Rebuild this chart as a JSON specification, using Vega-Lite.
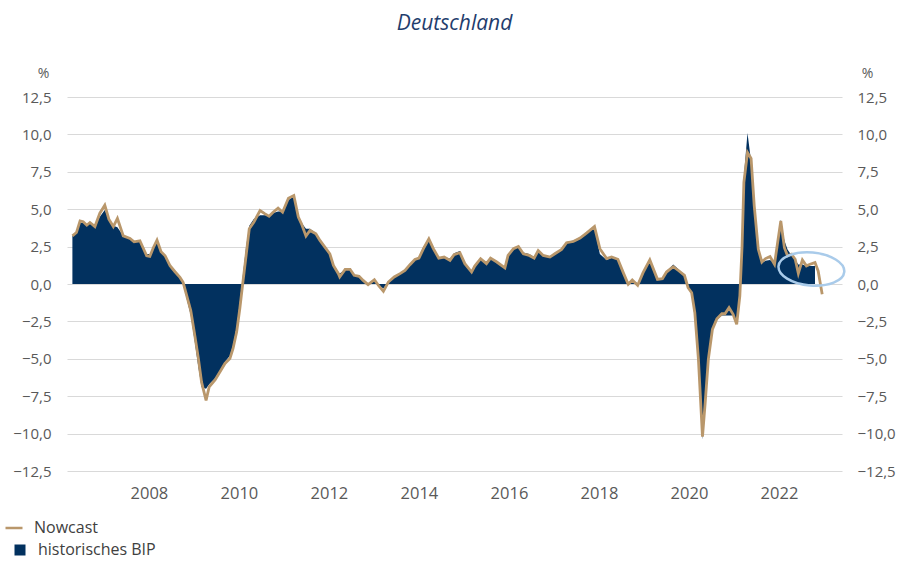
{
  "$schema": "https://vega.github.io/schema/vega-lite/v6.json",
  "autosize": {"type": "none"},
  "width": 775,
  "height": 374,
  "padding": {"left": 67, "top": 97, "right": 55, "bottom": 91},
  "config": {
    "font": "Open Sans",
    "view": {"stroke": null},
    "axis": {"labelFont": "Open Sans", "labelFontSize": 15, "labelColor": "#595959", "titleFont": "Open Sans", "titleFontSize": 14, "titleFontWeight": "normal", "titleColor": "#595959"},
    "legend": {"labelFont": "Open Sans", "labelFontSize": 16, "labelColor": "#404040", "padding": 0}
  },
  "title": {"text": "Deutschland", "fontStyle": "italic", "fontWeight": "normal", "fontSize": 21, "color": "#1f3d6d", "anchor": "middle", "offset": 32, "font": "Open Sans"},
  "datasets": {
    "series": [
      {"t":2006.30,"n":3.22,"b":3.22},{"t":2006.39,"n":3.44,"b":3.44},{"t":2006.47,"n":4.22,"b":4.1},{"t":2006.54,"n":4.16,"b":4.1},
      {"t":2006.62,"n":3.93,"b":3.95},{"t":2006.69,"n":4.11,"b":4.05},{"t":2006.80,"n":3.84,"b":4.0},{"t":2006.91,"n":4.73,"b":4.5},
      {"t":2007.02,"n":5.27,"b":4.95},{"t":2007.11,"n":4.33,"b":4.3},{"t":2007.21,"n":3.84,"b":3.9},{"t":2007.30,"n":4.38,"b":3.8},
      {"t":2007.43,"n":3.22,"b":3.22},{"t":2007.58,"n":3.04,"b":3.04},{"t":2007.67,"n":2.82,"b":2.82},{"t":2007.80,"n":2.89,"b":2.89},
      {"t":2007.95,"n":1.89,"b":2.0},{"t":2008.02,"n":1.84,"b":2.0},{"t":2008.10,"n":2.44,"b":2.4},{"t":2008.18,"n":2.93,"b":2.8},
      {"t":2008.27,"n":2.16,"b":2.16},{"t":2008.36,"n":1.89,"b":1.89},{"t":2008.47,"n":1.22,"b":1.22},{"t":2008.58,"n":0.82,"b":0.82},
      {"t":2008.69,"n":0.44,"b":0.44},{"t":2008.76,"n":0.11,"b":0.05},{"t":2008.84,"n":-0.78,"b":-1.0},{"t":2008.93,"n":-1.78,"b":-2.1},
      {"t":2009.02,"n":-3.44,"b":-3.9},{"t":2009.10,"n":-5.0,"b":-5.6},{"t":2009.17,"n":-6.56,"b":-6.9},{"t":2009.27,"n":-7.78,"b":-7.0},
      {"t":2009.34,"n":-6.87,"b":-6.7},{"t":2009.47,"n":-6.42,"b":-6.3},{"t":2009.58,"n":-5.87,"b":-5.8},{"t":2009.69,"n":-5.31,"b":-5.2},
      {"t":2009.80,"n":-4.98,"b":-4.8},{"t":2009.87,"n":-4.31,"b":-4.1},{"t":2009.95,"n":-3.2,"b":-2.9},{"t":2010.02,"n":-1.64,"b":-1.2},
      {"t":2010.08,"n":-0.09,"b":0.4},{"t":2010.16,"n":1.91,"b":2.5},{"t":2010.23,"n":3.69,"b":3.9},{"t":2010.33,"n":4.13,"b":4.35},
      {"t":2010.47,"n":4.91,"b":4.6},{"t":2010.58,"n":4.69,"b":4.6},{"t":2010.67,"n":4.53,"b":4.6},{"t":2010.76,"n":4.8,"b":4.75},
      {"t":2010.87,"n":5.07,"b":4.85},{"t":2010.97,"n":4.8,"b":4.85},{"t":2011.10,"n":5.73,"b":5.6},{"t":2011.22,"n":5.91,"b":5.9},
      {"t":2011.32,"n":4.47,"b":4.6},{"t":2011.39,"n":4.02,"b":4.1},{"t":2011.49,"n":3.2,"b":3.7},{"t":2011.58,"n":3.58,"b":3.7},
      {"t":2011.71,"n":3.36,"b":3.4},{"t":2011.80,"n":2.91,"b":2.95},{"t":2011.91,"n":2.47,"b":2.5},{"t":2012.02,"n":2.02,"b":2.05},
      {"t":2012.10,"n":1.24,"b":1.3},{"t":2012.21,"n":0.69,"b":0.8},{"t":2012.24,"n":0.47,"b":0.7},{"t":2012.36,"n":0.98,"b":0.95},
      {"t":2012.47,"n":0.98,"b":0.95},{"t":2012.56,"n":0.58,"b":0.6},{"t":2012.67,"n":0.51,"b":0.51},{"t":2012.76,"n":0.24,"b":0.24},
      {"t":2012.87,"n":-0.04,"b":0.0},{"t":2013.01,"n":0.29,"b":0.29},{"t":2013.11,"n":-0.13,"b":-0.1},{"t":2013.21,"n":-0.49,"b":-0.3},
      {"t":2013.32,"n":0.13,"b":0.13},{"t":2013.45,"n":0.47,"b":0.47},{"t":2013.58,"n":0.69,"b":0.69},{"t":2013.69,"n":0.91,"b":0.91},
      {"t":2013.80,"n":1.29,"b":1.29},{"t":2013.91,"n":1.64,"b":1.64},{"t":2014.00,"n":1.73,"b":1.8},{"t":2014.10,"n":2.36,"b":2.5},
      {"t":2014.22,"n":3.02,"b":2.9},{"t":2014.32,"n":2.36,"b":2.36},{"t":2014.44,"n":1.73,"b":1.8},{"t":2014.56,"n":1.8,"b":1.8},
      {"t":2014.69,"n":1.58,"b":1.7},{"t":2014.78,"n":1.96,"b":2.05},{"t":2014.91,"n":2.09,"b":2.2},{"t":2015.02,"n":1.36,"b":1.36},
      {"t":2015.17,"n":0.8,"b":0.8},{"t":2015.24,"n":1.2,"b":1.2},{"t":2015.37,"n":1.69,"b":1.69},{"t":2015.50,"n":1.36,"b":1.45},
      {"t":2015.59,"n":1.73,"b":1.7},{"t":2015.73,"n":1.47,"b":1.47},{"t":2015.91,"n":1.07,"b":1.07},{"t":2015.98,"n":1.91,"b":1.91},
      {"t":2016.10,"n":2.36,"b":2.36},{"t":2016.21,"n":2.51,"b":2.55},{"t":2016.32,"n":2.02,"b":2.1},{"t":2016.45,"n":1.91,"b":2.0},
      {"t":2016.56,"n":1.73,"b":1.8},{"t":2016.65,"n":2.24,"b":2.2},{"t":2016.76,"n":1.91,"b":1.95},{"t":2016.91,"n":1.8,"b":1.85},
      {"t":2017.02,"n":2.02,"b":2.05},{"t":2017.17,"n":2.31,"b":2.35},{"t":2017.28,"n":2.76,"b":2.8},{"t":2017.43,"n":2.84,"b":2.9},
      {"t":2017.58,"n":3.07,"b":3.1},{"t":2017.73,"n":3.42,"b":3.45},{"t":2017.90,"n":3.84,"b":3.8},{"t":2018.02,"n":2.36,"b":2.0},
      {"t":2018.17,"n":1.7,"b":1.6},{"t":2018.28,"n":1.81,"b":1.75},{"t":2018.42,"n":1.65,"b":1.65},{"t":2018.54,"n":0.76,"b":0.7},
      {"t":2018.65,"n":-0.02,"b":0.1},{"t":2018.74,"n":0.27,"b":0.25},{"t":2018.86,"n":-0.09,"b":0.05},{"t":2018.98,"n":0.76,"b":0.8},
      {"t":2019.13,"n":1.61,"b":1.6},{"t":2019.30,"n":0.31,"b":0.4},{"t":2019.41,"n":0.36,"b":0.4},{"t":2019.50,"n":0.8,"b":0.85},
      {"t":2019.65,"n":1.16,"b":1.3},{"t":2019.78,"n":0.87,"b":0.95},{"t":2019.90,"n":0.58,"b":0.6},{"t":2019.98,"n":-0.25,"b":-0.2},
      {"t":2020.06,"n":-0.58,"b":-0.7},{"t":2020.13,"n":-1.92,"b":-2.3},{"t":2020.21,"n":-5.04,"b":-5.6},{"t":2020.30,"n":-10.2,"b":-10.4},
      {"t":2020.36,"n":-7.95,"b":-7.9},{"t":2020.43,"n":-5.04,"b":-5.0},{"t":2020.52,"n":-3.04,"b":-3.1},{"t":2020.62,"n":-2.32,"b":-2.4},
      {"t":2020.73,"n":-1.99,"b":-2.1},{"t":2020.80,"n":-1.99,"b":-2.1},{"t":2020.89,"n":-1.58,"b":-2.1},{"t":2020.98,"n":-2.03,"b":-2.1},
      {"t":2021.06,"n":-2.7,"b":-2.4},{"t":2021.13,"n":-0.8,"b":-0.4},{"t":2021.18,"n":2.54,"b":3.0},{"t":2021.22,"n":6.8,"b":7.2},
      {"t":2021.30,"n":8.79,"b":10.1},{"t":2021.38,"n":8.39,"b":8.2},{"t":2021.45,"n":5.22,"b":5.0},{"t":2021.54,"n":2.32,"b":2.2},
      {"t":2021.62,"n":1.47,"b":1.4},{"t":2021.70,"n":1.7,"b":1.55},{"t":2021.80,"n":1.83,"b":1.6},{"t":2021.90,"n":1.32,"b":1.4},
      {"t":2021.97,"n":2.77,"b":2.9},{"t":2022.04,"n":4.22,"b":4.3},{"t":2022.12,"n":2.43,"b":2.9},{"t":2022.19,"n":1.88,"b":2.3},
      {"t":2022.28,"n":1.99,"b":1.9},{"t":2022.36,"n":1.65,"b":1.6},{"t":2022.43,"n":0.71,"b":1.3},{"t":2022.52,"n":1.61,"b":1.3},
      {"t":2022.61,"n":1.21,"b":1.2},{"t":2022.69,"n":1.32,"b":1.2},{"t":2022.80,"n":1.43,"b":1.2},{"t":2022.87,"n":0.87,"b":null},
      {"t":2022.96,"n":-0.69,"b":null}
    ],
    "highlight": [{"t": 2022.72, "v": 1.0}]
  },
  "layer": [
    {
      "data": {"name": "series"},
      "mark": {"type": "area", "interpolate": "linear"},
      "encoding": {
        "x": {"field": "t", "type": "quantitative", "scale": {"domain": [2006.18, 2023.4], "nice": false, "zero": false},
              "axis": {"values": [2008, 2010, 2012, 2014, 2016, 2018, 2020, 2022], "format": "d", "title": null, "domain": false, "ticks": false, "grid": false, "labelPadding": 14, "labelFontSize": 16.5}},
        "y": {"field": "b", "type": "quantitative", "scale": {"domain": [-12.5, 12.5], "nice": false, "zero": false},
              "axis": {"orient": "left", "values": [-12.5, -10, -7.5, -5, -2.5, 0, 2.5, 5, 7.5, 10, 12.5], "labelExpr": "replace(format(datum.value, '.1f'), '.', ',')", "domain": false, "ticks": false, "grid": true, "gridColor": "#d9d9d9", "gridWidth": 1, "labelPadding": 16, "title": "%", "titleAngle": 0, "titleAlign": "center", "titleBaseline": "middle", "titleX": -24, "titleY": -24}},
        "y2": {"datum": 0},
        "fill": {"datum": "historisches BIP", "type": "nominal", "scale": {"range": ["#02315f"]},
                 "legend": {"title": null, "orient": "none", "legendX": -55, "legendY": 445, "symbolType": "square", "symbolSize": 121, "labelOffset": 10, "symbolOpacity": 1}}
      }
    },
    {
      "data": {"name": "series"},
      "mark": {"type": "line", "strokeWidth": 2.8, "interpolate": "linear"},
      "encoding": {
        "x": {"field": "t", "type": "quantitative"},
        "y": {"field": "n", "type": "quantitative",
              "axis": {"orient": "right", "values": [-12.5, -10, -7.5, -5, -2.5, 0, 2.5, 5, 7.5, 10, 12.5], "labelExpr": "replace(format(datum.value, '.1f'), '.', ',')", "domain": false, "ticks": false, "grid": false, "labelPadding": 15, "title": "%", "titleAngle": 0, "titleAlign": "center", "titleBaseline": "middle", "titleX": 25, "titleY": -24}},
        "stroke": {"datum": "Nowcast", "type": "nominal", "scale": {"range": ["#b9976b"]},
                   "legend": {"title": null, "orient": "none", "legendX": -63, "legendY": 421, "symbolType": "stroke", "symbolSize": 289, "symbolStrokeWidth": 2.5, "labelOffset": 10}}
      }
    },
    {
      "data": {"name": "highlight"},
      "mark": {"type": "point", "shape": "M-1,0A1,0.5 0 1,0 1,0A1,0.5 0 1,0 -1,0", "size": 4356, "filled": false, "stroke": "#a9cbea", "strokeWidth": 2.5, "opacity": 1, "angle": 5},
      "encoding": {
        "x": {"field": "t", "type": "quantitative"},
        "y": {"field": "v", "type": "quantitative", "axis": null}
      }
    }
  ],
  "resolve": {"axis": {"y": "independent"}, "scale": {"y": "shared", "x": "shared"}}
}
